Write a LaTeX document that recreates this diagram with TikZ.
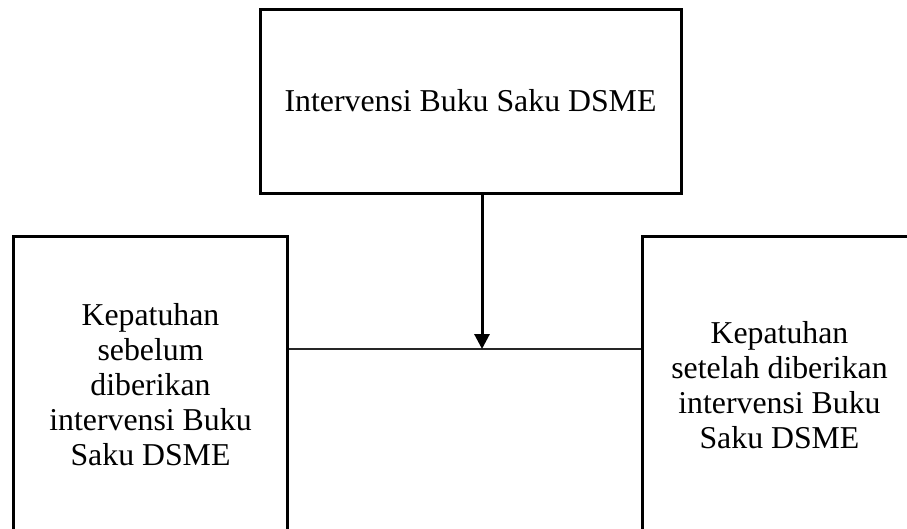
\documentclass[tikz,border=0pt]{standalone}
\usepackage{fontspec}
\setmainfont{Liberation Serif}
\usetikzlibrary{positioning,arrows.meta}
\tikzset{
  box/.style={draw,line width=3pt,align=center,inner sep=0pt,
             font=\fontsize{31.8}{35}\selectfont},
  sidebox/.style={box,minimum width=274pt,minimum height=298pt},
  flow/.style={-{Triangle[width=15pt,length=15pt]},line width=3pt},
  link/.style={line width=1.3pt,black!85},
}

\begin{document}
\begin{tikzpicture}[x=1pt,y=-1pt]
  \useasboundingbox (0,0) rectangle (907,528);
  \clip (0,0) rectangle (907,528);
  \node[box,minimum width=421pt,minimum height=184pt]
        (interv) at (470.5,101) {Intervensi Buku Saku DSME};
  \node[sidebox] (pre) at (150.5,385)
        {Kepatuhan\\sebelum\\diberikan\\intervensi Buku\\Saku DSME};
  \node[sidebox] (post) at (779.5,385)
        {Kepatuhan\\setelah diberikan\\intervensi Buku\\Saku DSME};
  \coordinate (meet) at (482,349);
  \draw[link] (pre.east |- meet) -- (post.west |- meet);
  \draw[flow] (interv.south -| meet) -- (meet);
\end{tikzpicture}
\end{document}
